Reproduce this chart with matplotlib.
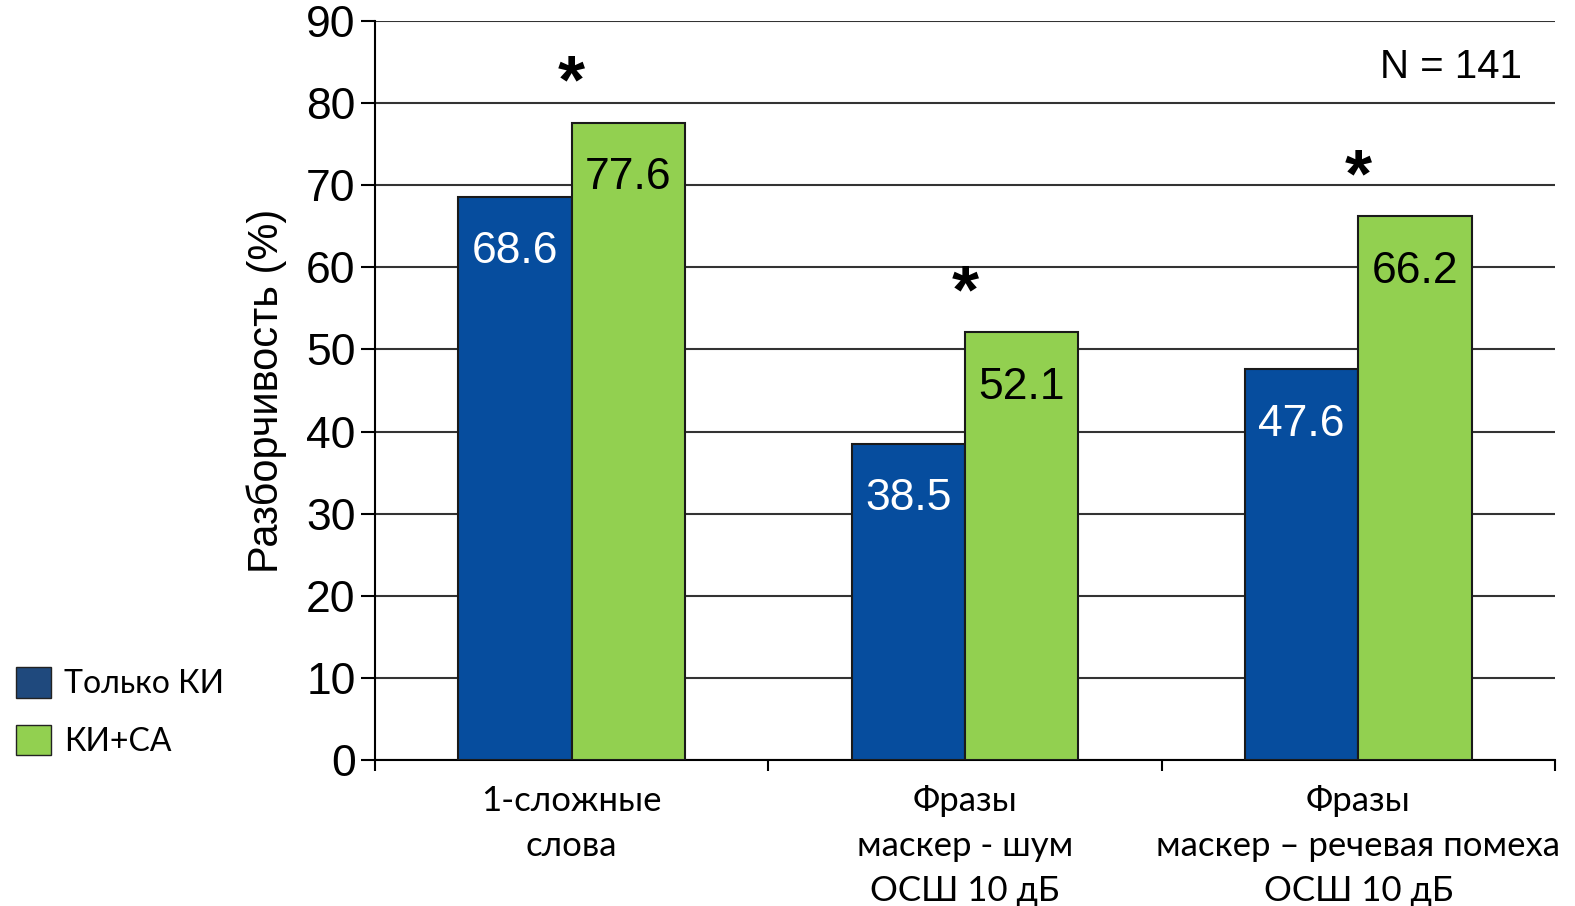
import numpy as np
import matplotlib.pyplot as plt
from matplotlib.patches import Patch

categories = ["1-сложные\nслова",
              "Фразы\nмаскер - шум\nОСШ 10 дБ",
              "Фразы\nмаскер – речевая помеха\nОСШ 10 дБ"]
ki_only = [68.6, 38.5, 47.6]
ki_sa = [77.6, 52.1, 66.2]
significant = [True, True, True]
series_names = ["Только КИ", "КИ+СА"]

blue = "#064d9e"
green = "#92d050"

fig = plt.figure(figsize=(15.75, 9.06), dpi=100)
ax = fig.add_axes([375 / 1575, 1 - 760 / 906, 1180 / 1575, 739 / 906])

x = np.arange(len(categories))
w = 0.288
b1 = ax.bar(x - w / 2, ki_only, w, color=blue, edgecolor="#1a1a1a", linewidth=1.5, zorder=3)
b2 = ax.bar(x + w / 2, ki_sa, w, color=green, edgecolor="#1a1a1a", linewidth=1.5, zorder=3)

for bars, col in ((b1, "white"), (b2, "black")):
    for r in bars:
        ax.annotate(f"{r.get_height():.1f}", (r.get_x() + r.get_width() / 2, r.get_height()),
                    xytext=(0, -55), textcoords="offset pixels", ha="center", va="center",
                    fontsize=32, color=col, family="Liberation Sans", zorder=4)

for i, s in enumerate(significant):
    if s:
        ax.annotate("*", (x[i], ki_sa[i]), xytext=(0, 6), textcoords="offset pixels",
                    ha="center", va="bottom", fontsize=50, fontweight="bold",
                    family="Liberation Sans")

ax.set_ylim(0, 90)
ax.set_xlim(-0.5, 2.5)
ax.set_yticks(range(0, 91, 10))
ax.yaxis.grid(True, color="#333333", linewidth=1.5, zorder=0)
ax.set_axisbelow(True)
ax.tick_params(axis="y", direction="out", length=10, width=1.5, labelsize=32, pad=4)
for t in ax.get_yticklabels():
    t.set_family("Liberation Sans")

ax.set_xticks(x)
ax.set_xticklabels(categories, fontsize=25, family="Lato", linespacing=1.5)
ax.set_xticks([-0.5, 0.5, 1.5, 2.5], minor=True)
ax.tick_params(axis="x", which="major", length=0, pad=18)
ax.tick_params(axis="x", which="minor", length=8, width=1.5, direction="out")

for sp in ("top", "right"):
    ax.spines[sp].set_visible(False)
ax.spines["left"].set_linewidth(1.5)
ax.spines["bottom"].set_linewidth(1.5)

ax.set_ylabel("Разборчивость (%)", fontsize=30, family="Liberation Sans", labelpad=14)

ax.text(0.972, 0.938, "N = 141", transform=ax.transAxes, ha="right", va="center",
        fontsize=29, family="Liberation Sans")

handles = [Patch(facecolor="#1f497d", edgecolor="#222222"),
           Patch(facecolor=green, edgecolor="#222222")]
fig.legend(handles, series_names, loc="lower left", bbox_to_anchor=(-0.004, 0.14),
           frameon=False, prop={"family": "Lato", "size": 23},
           handlelength=1.1, handleheight=1.1, handletextpad=0.4, labelspacing=0.8,
           borderaxespad=0.3)

fig.savefig("out.png", dpi=100)
